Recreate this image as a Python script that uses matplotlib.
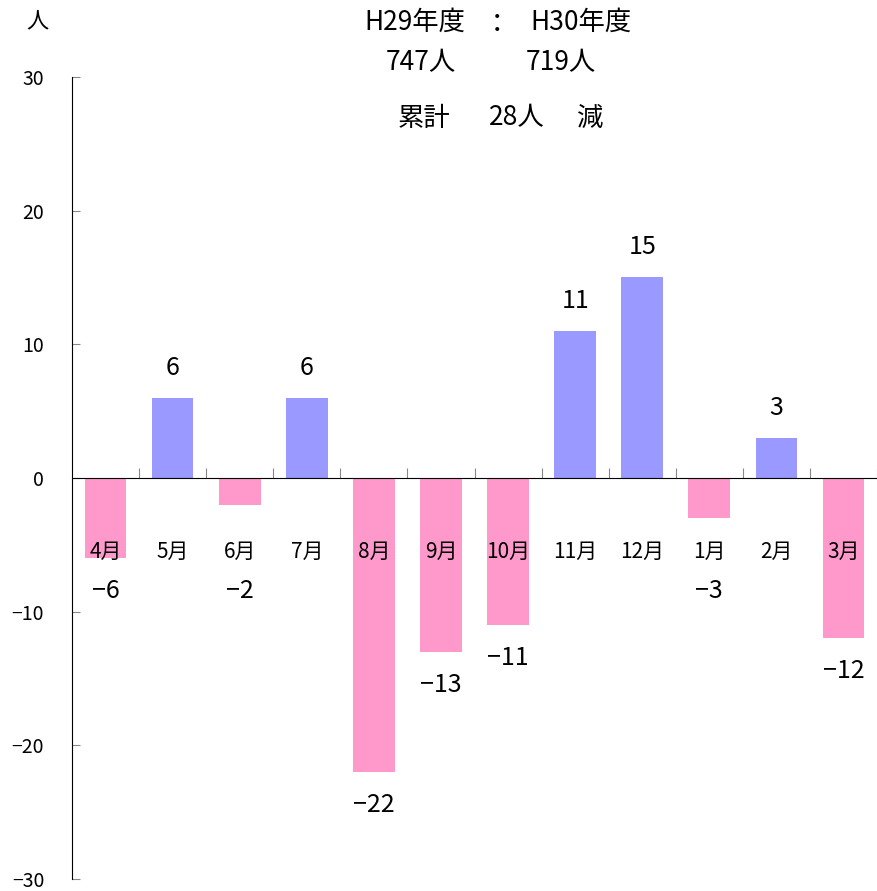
import numpy as np
import matplotlib.pyplot as plt

plt.rcParams['font.family'] = ['Noto Sans CJK JP', 'DejaVu Sans']

# ==========================
# DATA
# ==========================
months = ["4月", "5月", "6月", "7月", "8月", "9月", "10月", "11月", "12月", "1月", "2月", "3月"]
diff = [-6, 6, -2, 6, -22, -13, -11, 11, 15, -3, 3, -12]
totals = ["747人", "719人"]

BLUE = "#9999FF"
PINK = "#FF99CC"

fig = plt.figure(figsize=(8.77, 8.91), dpi=100)
ax = fig.add_axes([72 / 877, 1 - 879 / 891, 1 - 72 / 877, (879 - 77) / 891])

x = np.arange(len(months))
colors = [BLUE if v > 0 else PINK for v in diff]
ax.bar(x, diff, width=0.62, color=colors, zorder=2)

ax.set_xlim(-0.5, len(months) - 0.5)
ax.set_ylim(-30, 30)
ax.set_yticks([-30, -20, -10, 0, 10, 20, 30])
ax.set_yticklabels(["−30", "−20", "−10", "0", "10", "20", "30"])
ax.tick_params(axis='y', direction='in', length=6, color='#888888', pad=20, labelsize=14)

# category axis on the zero line
ax.spines['bottom'].set_position(('data', 0))
ax.spines['top'].set_visible(False)
ax.spines['right'].set_visible(False)
ax.set_xticks(np.arange(len(months)) + 0.5)
ax.set_xticklabels([])
ax.tick_params(axis='x', direction='in', length=7, color='#888888')

# month labels
for i, m in enumerate(months):
    ax.text(i, -5.5, m, ha='center', va='center', fontsize=15, zorder=3)

# value labels
for i, v in enumerate(diff):
    if v > 0:
        ax.text(i, v + 2.25, str(v), ha='center', va='center', fontsize=18, zorder=3)
    else:
        ypos = min(v, -6) - 2.45
        ax.text(i, ypos, "−" + str(-v), ha='center', va='center', fontsize=18, zorder=3)

# header texts
fs = 19
fig.text(37 / 877, 1 - 22 / 891, "人", ha='center', va='center', fontsize=16)
fig.text(415 / 877, 1 - 22 / 891, "H29年度", ha='center', va='center', fontsize=fs)
fig.text(497 / 877, 1 - 24 / 891, "：", ha='center', va='center', fontsize=fs)
fig.text(581 / 877, 1 - 22 / 891, "H30年度", ha='center', va='center', fontsize=fs)
fig.text(421 / 877, 1 - 63 / 891, totals[0], ha='center', va='center', fontsize=fs)
fig.text(561 / 877, 1 - 63 / 891, totals[1], ha='center', va='center', fontsize=fs)
fig.text(424 / 877, 1 - 118 / 891, "累計", ha='center', va='center', fontsize=fs)
fig.text(517 / 877, 1 - 118 / 891, "28人", ha='center', va='center', fontsize=fs)
fig.text(590 / 877, 1 - 118 / 891, "減", ha='center', va='center', fontsize=fs)

fig.savefig("out.png", dpi=100)
